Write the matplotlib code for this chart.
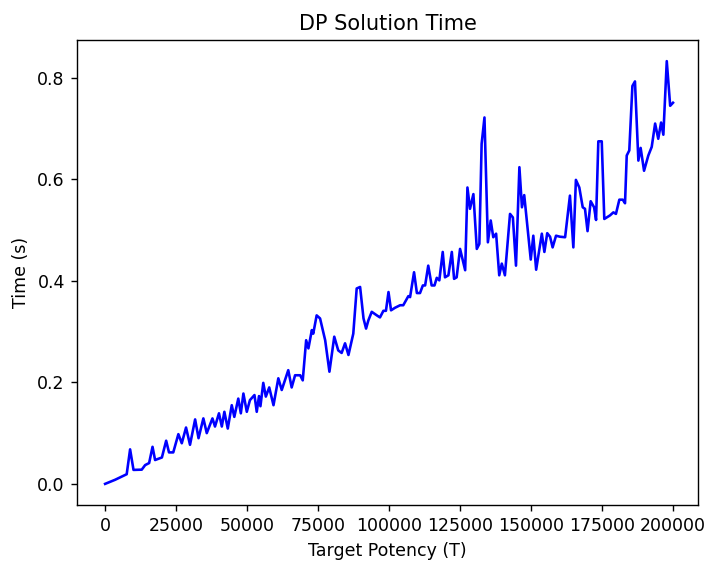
import matplotlib
matplotlib.use("Agg")
import matplotlib.pyplot as plt

target_potency = [
    0, 3500, 7600, 8800, 10000, 12900, 14100, 15500, 16700, 17600,
    20000, 21500, 22500, 24000, 25800, 27000, 28500, 29900, 31700, 32900,
    34600, 35800, 37800, 38700, 40100, 41100, 42000, 43200, 44600, 45500,
    46900, 47800, 48700, 49900, 51000, 52600, 53400, 54200, 54700, 55700,
    56600, 57800, 59300, 61000, 62200, 64500, 65700, 66900, 68700, 69600,
    70800, 71600, 72800, 73300, 74500, 75700, 77500, 79000, 80700, 82100,
    83300, 84500, 85700, 87400, 88600, 89800, 91000, 91900, 92700, 93900,
    95700, 96800, 98000, 98900, 99800, 100700, 102100, 103900, 105000, 106800,
    107400, 108800, 109800, 110900, 111900, 112700, 113800, 115000, 116000, 116800,
    117700, 118900, 119700, 120900, 122100, 122900, 123800, 125000, 126800, 127600,
    128500, 129700, 130900, 131800, 132600, 133600, 134800, 135800, 136700, 137700,
    138800, 139700, 140800, 142600, 143600, 144700, 145900, 146800, 147600, 149900,
    150800, 151800, 153800, 154700, 155700, 156700, 157600, 158800, 160200, 162000,
    163700, 164900, 165800, 167000, 168200, 169000, 169900, 171000, 172200, 172900,
    173700, 174900, 175800, 177800, 179000, 179900, 181100, 182300, 183100, 183700,
    184600, 185700, 186600, 187800, 188600, 189800, 191300, 192500, 193700, 194800,
    195800, 196600, 197800, 199000, 200000,
]
solve_time = [
    0.000, 0.008, 0.019, 0.068, 0.0275, 0.028, 0.037, 0.041, 0.073, 0.047,
    0.052, 0.085, 0.062, 0.062, 0.098, 0.080, 0.111, 0.077, 0.127, 0.090,
    0.129, 0.100, 0.129, 0.113, 0.139, 0.113, 0.142, 0.109, 0.155, 0.132,
    0.168, 0.139, 0.178, 0.142, 0.165, 0.175, 0.142, 0.173, 0.153, 0.199,
    0.172, 0.190, 0.155, 0.208, 0.185, 0.224, 0.190, 0.214, 0.214, 0.204,
    0.283, 0.267, 0.303, 0.296, 0.332, 0.326, 0.283, 0.221, 0.290, 0.263,
    0.258, 0.277, 0.254, 0.296, 0.385, 0.388, 0.326, 0.306, 0.322, 0.339,
    0.332, 0.328, 0.341, 0.341, 0.378, 0.342, 0.347, 0.352, 0.352, 0.370,
    0.368, 0.417, 0.376, 0.376, 0.391, 0.391, 0.430, 0.391, 0.391, 0.406,
    0.401, 0.457, 0.407, 0.411, 0.457, 0.404, 0.407, 0.463, 0.421, 0.584,
    0.542, 0.571, 0.463, 0.473, 0.670, 0.722, 0.476, 0.519, 0.486, 0.493,
    0.411, 0.434, 0.411, 0.532, 0.525, 0.430, 0.624, 0.545, 0.569, 0.442,
    0.489, 0.422, 0.493, 0.457, 0.494, 0.487, 0.466, 0.489, 0.487, 0.486,
    0.568, 0.466, 0.599, 0.584, 0.545, 0.542, 0.498, 0.557, 0.545, 0.520,
    0.675, 0.675, 0.522, 0.529, 0.535, 0.532, 0.560, 0.560, 0.553, 0.647,
    0.657, 0.784, 0.793, 0.637, 0.662, 0.617, 0.647, 0.664, 0.710, 0.680,
    0.712, 0.688, 0.833, 0.745, 0.751,
]

DPI = 125
fig = plt.figure(figsize=(707 / DPI, 561 / DPI), dpi=DPI)
ax = fig.add_axes([77 / 707, 56 / 561, 621 / 707, 465 / 561])
ax.plot(target_potency, solve_time, color="blue", linewidth=1.5)
ax.set_xlim(-9900, 208800)
ax.set_title("DP Solution Time")
ax.set_xlabel("Target Potency (T)")
ax.set_ylabel("Time (s)")
fig.savefig("out.png", dpi=DPI)
